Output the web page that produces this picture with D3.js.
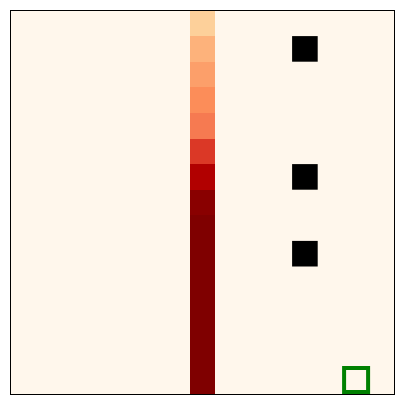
<!DOCTYPE html>
<html>
<head>
<meta charset="utf-8">
<script src="https://cdn.jsdelivr.net/npm/d3@7"></script>
<style>
  body { margin: 0; background: #fff; }
</style>
</head>
<body>
<div id="chart"></div>
<script>
// grid is 15 x 15, one hot column, a few black markers and one outlined cell
const nCols = 15;
const nRows = 15;
const hotCol = 7;
const hotValues = [0.27, 0.40, 0.45, 0.50, 0.56, 0.73, 0.88, 0.975, 1, 1, 1, 1, 1, 1, 1];
const blackCells = [[11, 1], [11, 6], [11, 9]]; // [col,row]
const goalCell = [13, 14];

var width = 405, height = 405;
var margin = {top: 10.5, left: 10.5};
var size = 384;

var svg = d3.select("#chart").append("svg")
    .attr("width", width)
    .attr("height", height);

var x = d3.scaleBand().domain(d3.range(nCols)).range([margin.left, margin.left + size]).padding(0);
var y = d3.scaleBand().domain(d3.range(nRows)).range([margin.top, margin.top + size]).padding(0);

// OrRd, linear between the 9 stops like matplotlib
var stops = d3.schemeOrRd[9];
var color = d3.scaleLinear()
    .domain(d3.range(9).map(function(i) { return i / 8; }))
    .range(stops)
    .clamp(true);

var cells = [];
for (var r = 0; r < nRows; r++) {
    for (var c = 0; c < nCols; c++) {
        cells.push({c: c, r: r, v: c === hotCol ? hotValues[r] : 0});
    }
}

svg.append("g").selectAll("rect")
    .data(cells)
    .enter().append("rect")
    .attr("x", function(d) { return x(d.c); })
    .attr("y", function(d) { return y(d.r); })
    .attr("width", x.bandwidth() + 0.5)
    .attr("height", y.bandwidth() + 0.5)
    .attr("fill", function(d) { return color(d.v); })
    .attr("shape-rendering", "crispEdges");

svg.append("g").selectAll("rect")
    .data(blackCells)
    .enter().append("rect")
    .attr("x", function(d) { return x(d[0]); })
    .attr("y", function(d) { return y(d[1]); })
    .attr("width", x.bandwidth())
    .attr("height", y.bandwidth())
    .attr("fill", "#000");

// outlined goal cell, 4px green stroke
var box = 24;
var gcx = x(goalCell[0]) + x.bandwidth() / 2;
var gcy = y(goalCell[1]) + y.bandwidth() / 2 - 1.7;
svg.append("rect")
    .attr("x", gcx - box / 2)
    .attr("y", gcy - box / 2)
    .attr("width", box)
    .attr("height", box)
    .attr("fill", "none")
    .attr("stroke", "green")
    .attr("stroke-width", 4);

// frame
svg.append("rect")
    .attr("x", margin.left)
    .attr("y", margin.top)
    .attr("width", size)
    .attr("height", size)
    .attr("fill", "none")
    .attr("stroke", "#000")
    .attr("stroke-width", 1);
</script>
</body>
</html>
